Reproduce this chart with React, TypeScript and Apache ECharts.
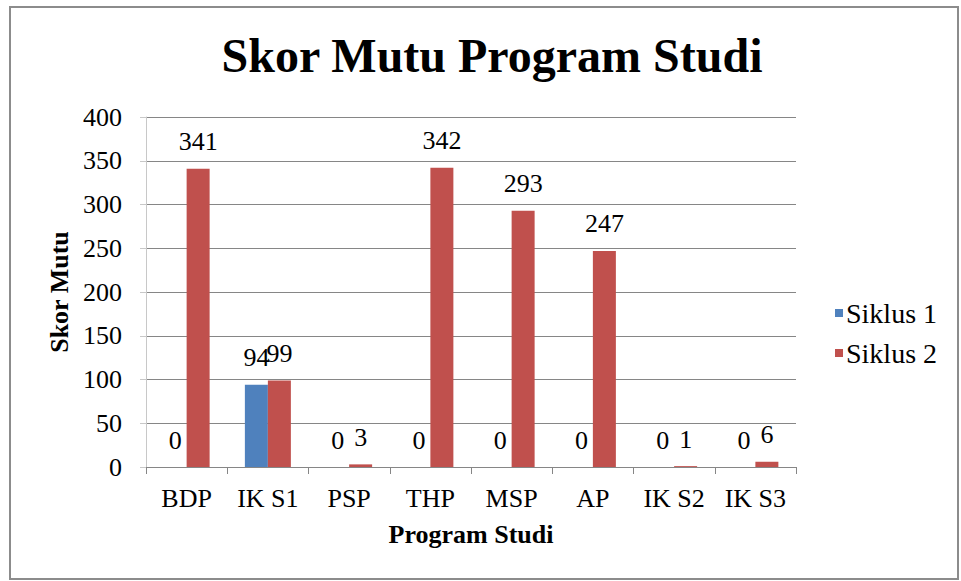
import React, { useEffect, useRef } from "react";
import * as echarts from "echarts";

const categories = ["BDP", "IK S1", "PSP", "THP", "MSP", "AP", "IK S2", "IK S3"];
const siklus1 = [0, 94, 0, 0, 0, 0, 0, 0];
const siklus2 = [341, 99, 3, 342, 293, 247, 1, 6];
const seriesNames = ["Siklus 1", "Siklus 2"];

const FONT = "'Liberation Serif', 'Times New Roman', serif";

export default function App() {
  const ref = useRef<HTMLDivElement>(null);
  useEffect(() => {
    const chart = echarts.init(ref.current!, null, { renderer: "svg" });
    const labelStyle = {
      show: true,
      position: "top" as const,
      distance: 14,
      fontFamily: FONT,
      fontSize: 26,
      color: "#000",
    };
    chart.setOption({
      animation: false,
      backgroundColor: "#fff",
      title: {
        text: "Skor Mutu Program Studi",
        left: 487,
        textAlign: "center",
        top: 26,
        textStyle: { fontFamily: FONT, fontSize: 48, fontWeight: "bold", color: "#000" },
      },
      graphic: [
        {
          type: "rect",
          shape: { x: 10, y: 7, width: 948, height: 572 },
          style: { fill: "none", stroke: "#8c8c8c", lineWidth: 2 },
          silent: true,
        },
      ],
      legend: {
        orient: "vertical",
        left: 830,
        top: 294,
        itemWidth: 8,
        itemHeight: 8,
        itemGap: 12,
        icon: "rect",
        textStyle: { fontFamily: FONT, fontSize: 28, color: "#000", padding: [0, 0, 0, -2] },
        data: seriesNames,
      },
      grid: { left: 146, right: 165, top: 117, bottom: 114, containLabel: false },
      xAxis: {
        type: "category",
        data: categories,
        name: "Program Studi",
        nameLocation: "middle",
        nameGap: 54,
        nameTextStyle: { fontFamily: FONT, fontSize: 26, fontWeight: "bold", color: "#000" },
        axisLine: { lineStyle: { color: "#868686", width: 1 } },
        axisTick: { show: true, length: 7, alignWithLabel: false, lineStyle: { color: "#868686" } },
        axisLabel: { fontFamily: FONT, fontSize: 26, color: "#000", margin: 18, interval: 0 },
      },
      yAxis: {
        type: "value",
        min: 0,
        max: 400,
        interval: 50,
        name: "Skor Mutu",
        nameLocation: "middle",
        nameGap: 68,
        nameTextStyle: { fontFamily: FONT, fontSize: 26, fontWeight: "bold", color: "#000" },
        axisLine: { show: true, lineStyle: { color: "#c8c8c8" } },
        axisTick: { show: true, length: 6, lineStyle: { color: "#c8c8c8" } },
        axisLabel: { fontFamily: FONT, fontSize: 26, color: "#000", margin: 24 },
        splitLine: { lineStyle: { color: "#868686", width: 1 } },
      },
      series: [
        {
          name: seriesNames[0],
          type: "bar",
          data: siklus1,
          barWidth: 23,
          barGap: "0%",
          itemStyle: { color: "#4F81BD" },
          label: labelStyle,
        },
        {
          name: seriesNames[1],
          type: "bar",
          data: siklus2,
          barWidth: 23,
          barGap: "0%",
          itemStyle: { color: "#C0504D" },
          label: labelStyle,
        },
      ],
    });
    return () => chart.dispose();
  }, []);
  return (
    <div
      ref={ref}
      style={{ position: "fixed", left: 0, top: 0, width: 961, height: 581 }}
    />
  );
}
